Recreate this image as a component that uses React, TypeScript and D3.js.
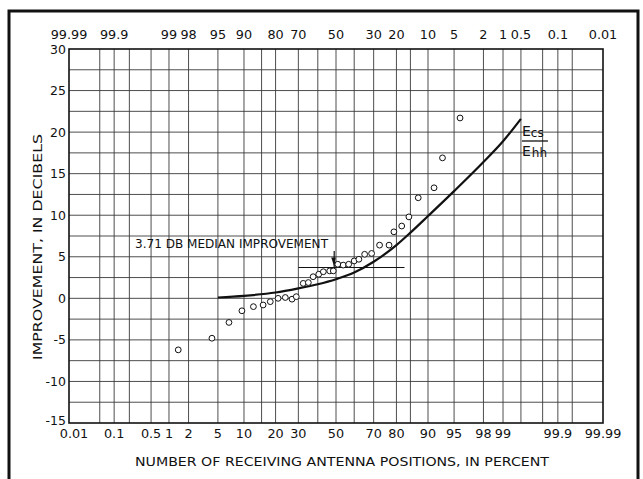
import React, { useEffect, useRef } from 'react';
import * as d3 from 'd3';

// measured points, percent of positions vs improvement (dB)
const pointPct = [1.4, 4.2, 6.8, 9.5, 12.5, 15.5, 18, 21, 24, 27, 29, 32.4, 35, 37.5, 40.5, 43, 46.5, 48.5, 51, 54, 57, 60, 62.5, 65.5, 69, 72.8, 77, 79, 82, 84.5, 87.4, 91.4, 93.1, 95.8];
const pointDb = [-6.2, -4.8, -2.9, -1.5, -1.0, -0.8, -0.4, 0, 0.1, -0.1, 0.2, 1.8, 1.9, 2.6, 2.9, 3.2, 3.3, 3.3, 4.1, 4.0, 4.1, 4.5, 4.7, 5.3, 5.4, 6.4, 6.4, 8.0, 8.7, 9.8, 12.1, 13.3, 16.9, 21.7];

// theoretical Ecs/Ehh curve
const curvePct = [5, 10, 20, 30, 40, 50, 60, 70, 80, 85, 90, 95, 98, 99, 99.5];
const curveDb = [0.1, 0.3, 0.7, 1.2, 1.7, 2.3, 3.1, 4.4, 6.4, 7.9, 9.9, 12.9, 16.4, 18.9, 21.6];

const gridPct = [0.05, 0.1, 0.2, 0.5, 1, 2, 5, 10, 15, 20, 30, 40, 50, 60, 70, 80, 85, 90, 95, 98, 99, 99.5, 99.8, 99.9, 99.95];
const bottomLabels = ['0.01', '0.1', '0.5', '1', '2', '5', '10', '20', '30', '50', '70', '80', '90', '95', '98', '99', '99.9', '99.99'];
const topLabels = ['99.99', '99.9', '99', '98', '95', '90', '80', '70', '50', '30', '20', '10', '5', '2', '1', '0.5', '0.1', '0.01'];
const yTicks = [30, 25, 20, 15, 10, 5, 0, -5, -10, -15];

const medianDb = 3.71;
const medianLine = [30, 83];
const medianArrowPct = 49;

// inverse normal cdf (Acklam)
function probit(p: number) {
    const a = [-3.969683028665376e1, 2.209460984245205e2, -2.759285104469687e2, 1.383577518672690e2, -3.066479806614716e1, 2.506628277459239];
    const b = [-5.447609879822406e1, 1.615858368580409e2, -1.556989798598866e2, 6.680131188771972e1, -1.328068155288572e1];
    const c = [-7.784894002430293e-3, -3.223964580411365e-1, -2.400758277161838, -2.549732539343734, 4.374664141464968, 2.938163982698783];
    const d = [7.784695709041462e-3, 3.224671290700398e-1, 2.445134137142996, 3.754408661907416];
    const pl = 0.02425;
    if (p < pl) {
        const q = Math.sqrt(-2 * Math.log(p));
        return (((((c[0] * q + c[1]) * q + c[2]) * q + c[3]) * q + c[4]) * q + c[5]) / ((((d[0] * q + d[1]) * q + d[2]) * q + d[3]) * q + 1);
    }
    if (p > 1 - pl) {
        const q = Math.sqrt(-2 * Math.log(1 - p));
        return -(((((c[0] * q + c[1]) * q + c[2]) * q + c[3]) * q + c[4]) * q + c[5]) / ((((d[0] * q + d[1]) * q + d[2]) * q + d[3]) * q + 1);
    }
    const q = p - 0.5;
    const r = q * q;
    return (((((a[0] * r + a[1]) * r + a[2]) * r + a[3]) * r + a[4]) * r + a[5]) * q / (((((b[0] * r + b[1]) * r + b[2]) * r + b[3]) * r + b[4]) * r + 1);
}

const App = () => {
    const ref = useRef<SVGSVGElement>(null);

    useEffect(() => {
        const W = 643, H = 479;
        const left = 69, right = 603, top = 49, bottom = 423;
        const font = "'DejaVu Sans', sans-serif";

        const svg = d3.select(ref.current);
        svg.selectAll('*').remove();

        const zMax = -probit(0.0001);
        const xz = d3.scaleLinear().domain([-zMax, zMax]).range([left, right]);
        const x = (pct: number) => xz(probit(pct / 100));
        const y = d3.scaleLinear().domain([-15, 30]).range([bottom, top]);

        svg.append('rect').attr('width', W).attr('height', H).attr('fill', 'white');

        // outer frame (bottom edge runs off the page)
        svg.append('rect')
            .attr('x', 9).attr('y', 11).attr('width', 629).attr('height', 480)
            .attr('fill', 'none').attr('stroke', '#111').attr('stroke-width', 3);

        const grid = svg.append('g').attr('stroke', '#3a3a3a').attr('stroke-width', 0.9);
        grid.selectAll('line.v').data(gridPct).enter().append('line')
            .attr('x1', d => x(d)).attr('x2', d => x(d))
            .attr('y1', top).attr('y2', bottom);
        grid.selectAll('line.h').data(d3.range(-12.5, 30, 2.5)).enter().append('line')
            .attr('x1', left).attr('x2', right)
            .attr('y1', d => y(d)).attr('y2', d => y(d));

        svg.append('rect')
            .attr('x', left).attr('y', top).attr('width', right - left).attr('height', bottom - top)
            .attr('fill', 'none').attr('stroke', '#111').attr('stroke-width', 1.6);

        // y tick labels
        svg.append('g').selectAll('text').data(yTicks).enter().append('text')
            .attr('x', left - 3).attr('y', d => y(d) + (d === -15 ? 1.5 : 4.5))
            .attr('text-anchor', 'end')
            .attr('font-family', font).attr('font-size', 12.5).attr('fill', '#111')
            .text(d => String(d));

        // bottom labels
        svg.append('g').selectAll('text').data(bottomLabels).enter().append('text')
            .attr('x', (d, i) => x(+d) + (i === 0 ? 5 : 0)).attr('y', bottom + 15)
            .attr('text-anchor', 'middle')
            .attr('font-family', font).attr('font-size', 12.8).attr('fill', '#111')
            .text(d => d);

        // top labels (complement)
        svg.append('g').selectAll('text').data(topLabels).enter().append('text')
            .attr('x', d => x(100 - +d)).attr('y', top - 10)
            .attr('text-anchor', 'middle')
            .attr('font-family', font).attr('font-size', 12.8).attr('fill', '#111')
            .text(d => d);

        svg.append('text')
            .attr('x', (left + right) / 2 + 6).attr('y', 466)
            .attr('text-anchor', 'middle')
            .attr('font-family', font).attr('font-size', 13).attr('fill', '#111')
            .attr('textLength', 414).attr('lengthAdjust', 'spacingAndGlyphs')
            .text('NUMBER OF RECEIVING ANTENNA POSITIONS, IN PERCENT');

        svg.append('text')
            .attr('transform', `translate(42,${(top + bottom) / 2 + 11}) rotate(-90)`)
            .attr('text-anchor', 'middle')
            .attr('font-family', font).attr('font-size', 13).attr('fill', '#111')
            .attr('textLength', 226).attr('lengthAdjust', 'spacingAndGlyphs')
            .text('IMPROVEMENT, IN DECIBELS');

        // theoretical curve
        const curve = curvePct.map((p, i) => [x(p), y(curveDb[i])] as [number, number]);
        svg.append('path')
            .attr('d', d3.line().curve(d3.curveMonotoneX)(curve))
            .attr('fill', 'none').attr('stroke', '#111').attr('stroke-width', 2.2);

        // median line + annotation
        svg.append('line')
            .attr('x1', x(medianLine[0])).attr('x2', x(medianLine[1]))
            .attr('y1', y(medianDb)).attr('y2', y(medianDb))
            .attr('stroke', '#111').attr('stroke-width', 1.2);

        const ax = x(medianArrowPct);
        svg.append('line')
            .attr('x1', ax).attr('x2', ax)
            .attr('y1', y(5.7)).attr('y2', y(medianDb))
            .attr('stroke', '#111').attr('stroke-width', 1.2);
        svg.append('path')
            .attr('d', `M${ax - 3},${y(medianDb) - 10}L${ax + 1.5},${y(medianDb) - 10}L${ax},${y(medianDb) - 1}Z`)
            .attr('fill', '#111');

        svg.append('text')
            .attr('x', 135).attr('y', y(6.0))
            .attr('font-family', font).attr('font-size', 12.8).attr('fill', '#111')
            .attr('textLength', 193).attr('lengthAdjust', 'spacingAndGlyphs')
            .text('3.71 DB MEDIAN IMPROVEMENT');

        // Ecs / Ehh label
        const lx = x(99.5) + 1;
        svg.append('text').attr('x', lx).attr('y', 136)
            .attr('font-family', font).attr('font-size', 14).attr('fill', '#111')
            .text('E').append('tspan').attr('dy', 1).attr('font-size', 12).text('cs');
        svg.append('line')
            .attr('x1', lx).attr('x2', lx + 26)
            .attr('y1', 141).attr('y2', 141)
            .attr('stroke', '#111').attr('stroke-width', 1.3);
        svg.append('text').attr('x', lx).attr('y', 156)
            .attr('font-family', font).attr('font-size', 14).attr('fill', '#111')
            .text('E').append('tspan').attr('dy', 1).attr('dx', 1).attr('font-size', 12).text('hh');

        // data points
        svg.append('g').selectAll('circle').data(pointPct).enter().append('circle')
            .attr('cx', d => x(d))
            .attr('cy', (d, i) => y(pointDb[i]))
            .attr('r', 2.9)
            .attr('fill', 'white').attr('stroke', '#111').attr('stroke-width', 1);
    }, []);

    return (
        <svg ref={ref} width={643} height={479} style={{ position: 'absolute', left: 0, top: 0 }} />
    );
};

export default App;
